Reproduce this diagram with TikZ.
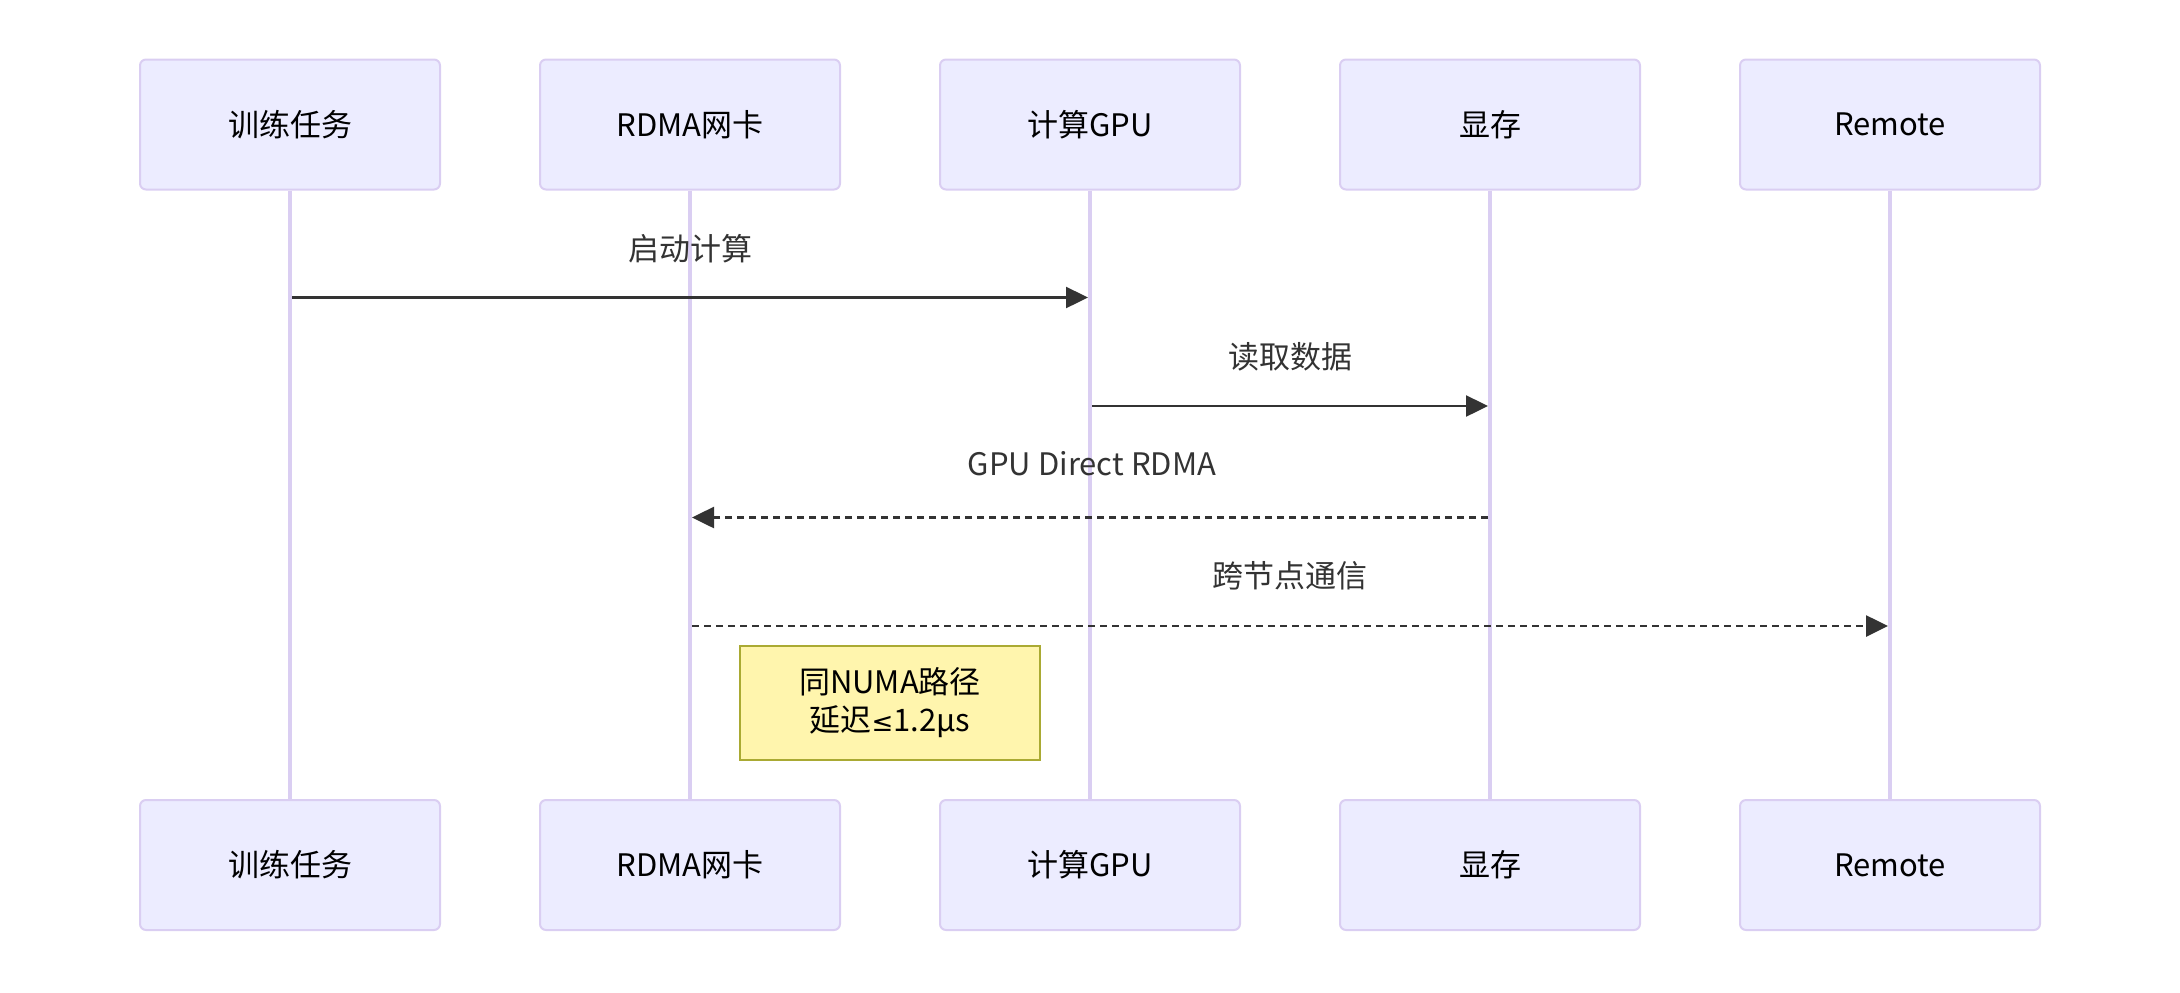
\documentclass[tikz,border=0pt]{standalone}
\usepackage{fontspec}
\setmainfont{Noto Sans CJK SC}
\newfontfamily\symfont{DejaVu Sans}
\usetikzlibrary{arrows.meta}

\definecolor{actorfill}{HTML}{ECECFF}
\definecolor{actorline}{HTML}{DACEF2}
\definecolor{msgline}{HTML}{333333}
\definecolor{notefill}{HTML}{FFF5AD}
\definecolor{noteline}{HTML}{AAAA33}

\tikzset{
    actor/.style={draw=actorline, fill=actorfill, line width=1pt, rounded corners=3pt,
        minimum width=150pt, minimum height=65pt, font=\fontsize{15.5}{19}\selectfont},
    lifeline/.style={draw=actorline, line width=2pt},
    msg/.style={draw=msgline, line width=1.2pt, -{Triangle[length=11pt,width=10.5pt]}},
    reply/.style={msg, line width=1.3pt, dash pattern=on 3.5pt off 2.5pt},
    msglabel/.style={text=msgline, font=\fontsize{15.5}{19}\selectfont},
    notebox/.style={draw=noteline, fill=notefill, line width=1pt, minimum width=150pt,
        minimum height=57pt, align=center, font=\fontsize{15.5}{19}\selectfont}
}

\begin{document}
\begin{tikzpicture}[x=0.5pt, y=-0.5pt]
    \useasboundingbox (0,0) rectangle (2180,992);

    % Participants, top row
    \node[actor] (t1) at (290,124.5) {训练任务};
    \node[actor] (t2) at (690,124.5) {RDMA网卡};
    \node[actor] (t3) at (1090,124.5) {计算GPU};
    \node[actor] (t4) at (1490,124.5) {显存};
    \node[actor] (t5) at (1890,124.5) {Remote};

    % Participants, bottom row
    \node[actor] (b1) at (290,865) {训练任务};
    \node[actor] (b2) at (690,865) {RDMA网卡};
    \node[actor] (b3) at (1090,865) {计算GPU};
    \node[actor] (b4) at (1490,865) {显存};
    \node[actor] (b5) at (1890,865) {Remote};

    % Lifelines
    \draw[lifeline] (t1) -- (b1);
    \draw[lifeline] (t2) -- (b2);
    \draw[lifeline] (t3) -- (b3);
    \draw[lifeline] (t4) -- (b4);
    \draw[lifeline] (t5) -- (b5);

    % Messages
    \node[msglabel] (l1) at (690,249) {启动计算};
    \coordinate (a1) at (292,297.5);
    \coordinate (a2) at (1088,297.5);
    \draw[msg] (a1) -- (a2);

    \node[msglabel] (l2) at (1290,357) {读取数据};
    \coordinate (b1s) at (1092,406);
    \coordinate (b2e) at (1488,406);
    \draw[msg] (b1s) -- (b2e);

    \node[msglabel] (l3) at (1092,464) {GPU Direct RDMA};
    \coordinate (c1) at (1488,517.5);
    \coordinate (c2) at (692,517.5);
    \draw[reply] (c1) -- (c2);

    \node[msglabel] (l4) at (1290,576) {跨节点通信};
    \coordinate (d1) at (692,626);
    \coordinate (d2) at (1888,626);
    \draw[reply] (d1) -- (d2);

    % Note
    \node[notebox] (n1) at (890,703) {同NUMA路径\\延迟{\symfont\fontsize{13}{19}\selectfont ≤}1.2μs};

\end{tikzpicture}
\end{document}
